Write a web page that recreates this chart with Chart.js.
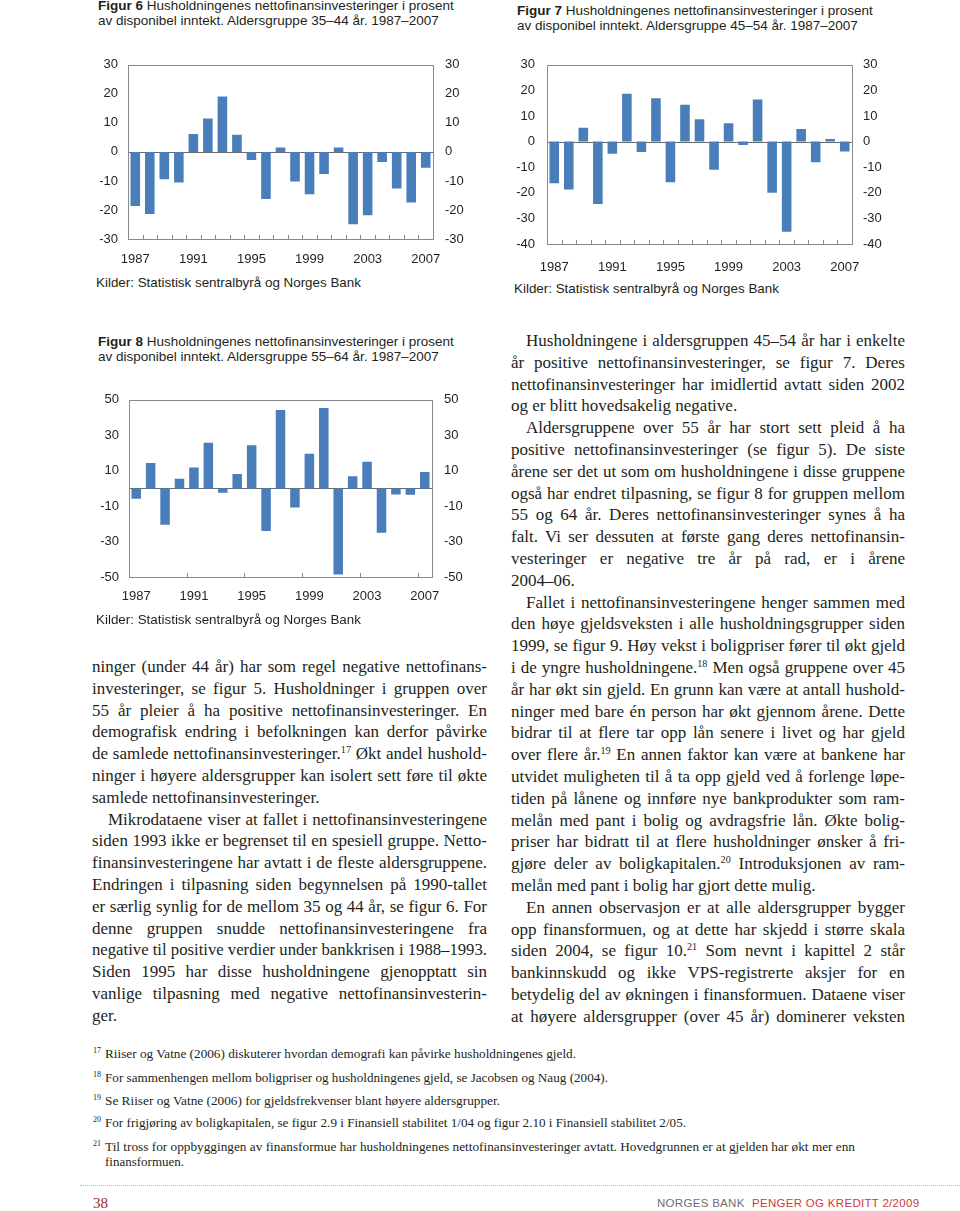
<!DOCTYPE html>
<html><head><meta charset="utf-8">
<script src="https://cdn.jsdelivr.net/npm/chart.js@4"></script>
<style>
html,body{margin:0;padding:0;background:#fff;}
body{width:960px;height:1211px;position:relative;overflow:hidden;}
.abs{position:absolute;}
.ftitle{position:absolute;font-family:"Liberation Sans",Arial,sans-serif;font-size:13.5px;line-height:14.5px;color:#231f20;white-space:nowrap;}
.ftitle b{font-weight:bold;}
.kilder{position:absolute;font-family:"Liberation Sans",Arial,sans-serif;font-size:13.4px;line-height:16px;color:#231f20;white-space:nowrap;}
.col{position:absolute;font-family:"Liberation Serif","Times New Roman",serif;font-size:17px;color:#231f20;}
.ln{height:21.8px;line-height:21.8px;white-space:nowrap;}
.ln span{display:inline-block;transform-origin:0 50%;}
sup{font-size:0.6em;line-height:0;vertical-align:0.55em;}
.fn{position:absolute;font-family:"Liberation Serif","Times New Roman",serif;font-size:12.5px;line-height:15px;color:#231f20;white-space:nowrap;}
.fn span{display:inline-block;transform-origin:0 50%;}
.fnum{position:absolute;font-family:"Liberation Serif","Times New Roman",serif;font-size:8px;color:#231f20;}
canvas{position:absolute;}
</style>
</head><body>

<div class="ftitle" style="left:98px;top:-1px;"><b>Figur 6</b> Husholdningenes nettofinansinvesteringer i prosent<br>av disponibel inntekt. Aldersgruppe 35–44 år. 1987–2007</div>
<div class="ftitle" style="left:517px;top:4px;"><b>Figur 7</b> Husholdningenes nettofinansinvesteringer i prosent<br>av disponibel inntekt. Aldersgruppe 45–54 år. 1987–2007</div>
<div class="ftitle" style="left:98px;top:335px;"><b>Figur 8</b> Husholdningenes nettofinansinvesteringer i prosent<br>av disponibel inntekt. Aldersgruppe 55–64 år. 1987–2007</div>

<canvas id="c6" width="420" height="230" style="left:70px;top:45px;"></canvas>
<canvas id="c7" width="420" height="235" style="left:490px;top:45px;"></canvas>
<canvas id="c8" width="420" height="235" style="left:70px;top:380px;"></canvas>

<div class="kilder" style="left:96px;top:275px;">Kilder: Statistisk sentralbyrå og Norges Bank</div>
<div class="kilder" style="left:514px;top:281px;">Kilder: Statistisk sentralbyrå og Norges Bank</div>
<div class="kilder" style="left:96px;top:612px;">Kilder: Statistisk sentralbyrå og Norges Bank</div>

<div class="col" id="leftcol" style="left:92px;top:656px;width:395px;"></div>
<div class="col" id="rightcol" style="left:511px;top:330px;width:394px;"></div>

<div id="fns"></div>

<div class="abs" style="left:80px;top:1185px;width:880px;border-top:1px dotted #b8b8b8;"></div>
<div class="abs" style="left:93px;top:1194px;font-family:'Liberation Serif',serif;font-size:15px;line-height:18px;color:#a3282e;">38</div>
<div class="abs" style="left:657px;top:1196px;font-family:'Liberation Sans',Arial,sans-serif;font-size:11.5px;line-height:14px;color:#6d6e70;letter-spacing:0.3px;">NORGES BANK</div>
<div class="abs" style="left:752px;top:1196px;font-family:'Liberation Sans',Arial,sans-serif;font-size:11.5px;line-height:14px;color:#d2373d;letter-spacing:0.3px;">PENGER OG KREDITT 2/2009</div>

<script>
// ---- data ----
const years = ['1987','1988','1989','1990','1991','1992','1993','1994','1995','1996','1997','1998','1999','2000','2001','2002','2003','2004','2005','2006','2007'];
const tickYears = ['1987','1991','1995','1999','2003','2007'];
const fig6Values = [-18.6,-21.4,-9.4,-10.5,6.2,11.5,19.1,5.9,-2.8,-16.2,1.5,-10.2,-14.6,-7.6,1.5,-24.9,-21.8,-3.5,-12.6,-17.4,-5.5];
const fig7Values = [-16.3,-18.7,5.4,-24.4,-4.7,18.7,-4.1,16.9,-15.9,14.4,8.7,-11.0,7.2,-1.3,16.4,-20.0,-35.2,4.9,-8.1,1.0,-3.9];
const fig8Values = [-5.9,14.3,-20.5,5.4,11.8,25.8,-2.5,8.1,24.4,-24.1,44.2,-10.8,19.5,45.4,-48.6,6.9,15.1,-25.0,-3.4,-3.6,9.2];
const fig6Ticks = [30,20,10,0,-10,-20,-30];
const fig7Ticks = [30,20,10,0,-10,-20,-30,-40];
const fig8Ticks = [50,30,10,-10,-30,-50];

const barColor = '#4a7ebb';
const txtColor = '#231f20';
const tickFont = {family:'"Liberation Sans", Arial, sans-serif', size:13};

const framePlugin = {
  id:'frame',
  beforeDatasetsDraw(chart){
    const {ctx, chartArea:a, scales} = chart;
    ctx.save();
    ctx.strokeStyle = '#6a6a6a'; ctx.lineWidth = 1;
    const y0 = Math.round(scales.y.getPixelForValue(0)) + 0.5;
    ctx.beginPath(); ctx.moveTo(a.left, y0); ctx.lineTo(a.right, y0); ctx.stroke();
    ctx.restore();
  },
  afterDatasetsDraw(chart, args, opts){
    const {ctx, chartArea:a, scales} = chart;
    ctx.save();
    ctx.strokeStyle = '#8a8a8a'; ctx.lineWidth = 1;
    ctx.strokeRect(Math.round(a.left)+0.5, Math.round(a.top)+0.5, Math.round(a.right-a.left), Math.round(a.bottom-a.top));
    const xs = scales.x; const n = chart.data.labels.length; const every = opts.tickEvery || 1;
    ctx.beginPath();
    for (let i=1;i<n;i++){
      if (i % every) continue;
      const px = Math.round((xs.getPixelForValue(i-1)+xs.getPixelForValue(i))/2)+0.5;
      ctx.moveTo(px, Math.round(a.bottom)); ctx.lineTo(px, Math.round(a.bottom)-4);
    }
    ctx.stroke();
    ctx.restore();
  }
};

function makeChart(id, values, yTicks, min, max, g, tickEvery){
  const yScale = (pos, w, pad) => ({
    position: pos, min: min, max: max,
    afterBuildTicks: s => { s.ticks = yTicks.map(v => ({value:v})); },
    grid:{display:false, drawTicks:false}, border:{display:false},
    ticks:{padding:pad, color:txtColor, font:tickFont},
    afterFit: s => { s.width = w; }
  });
  new Chart(document.getElementById(id), {
    type:'bar',
    data:{labels:years, datasets:[{data:values, backgroundColor:barColor, borderWidth:0, barPercentage:0.66, categoryPercentage:1, yAxisID:'y'}]},
    options:{
      responsive:false, animation:false, devicePixelRatio:1,
      layout:{padding:{top:g.padTop, left:0, right:0, bottom:0}},
      plugins:{legend:{display:false}, tooltip:{enabled:false}, frame:{tickEvery:tickEvery}},
      scales:{
        x:{
          grid:{display:false, drawTicks:false}, border:{display:false},
          ticks:{autoSkip:false, maxRotation:0, minRotation:0, padding:g.xPad, color:txtColor, font:tickFont,
            callback:(v,i) => tickYears.includes(years[i]) ? years[i] : ''},
          afterFit: s => { s.height = g.bottom; }
        },
        y: yScale('left', g.left, g.lPad),
        y2: yScale('right', g.right, g.rPad)
      }
    },
    plugins:[framePlugin]
  });
}

makeChart('c6', fig6Values, fig6Ticks, -30, 30, {padTop:12, left:58, right:57, bottom:36, xPad:13, lPad:10, rPad:12}, 1);
makeChart('c7', fig7Values, fig7Ticks, -40, 30, {padTop:18, left:57, right:58, bottom:36, xPad:16, lPad:12, rPad:11}, 1);
makeChart('c8', fig8Values, fig8Ticks, -50, 50, {padTop:14, left:59, right:58, bottom:38, xPad:12, lPad:10, rPad:12}, 4);

// ---- body text ----
const leftLines = [
 ['ninger (under 44 år) har som regel negative nettofinans-',0,0],
 ['investeringer, se figur 5. Husholdninger i gruppen over',0,0],
 ['55 år pleier å ha positive nettofinansinvesteringer. En',0,0],
 ['demografisk endring i befolkningen kan derfor påvirke',0,0],
 ['de samlede nettofinansinvesteringer.<sup>17</sup> Økt andel hushold-',0,0],
 ['ninger i høyere aldersgrupper kan isolert sett føre til økte',0,0],
 ['samlede nettofinansinvesteringer.',0,1],
 ['Mikrodataene viser at fallet i nettofinansinvesteringene',1,0],
 ['siden 1993 ikke er begrenset til en spesiell gruppe. Netto-',0,0],
 ['finansinvesteringene har avtatt i de fleste aldersgruppene.',0,0],
 ['Endringen i tilpasning siden begynnelsen på 1990-tallet',0,0],
 ['er særlig synlig for de mellom 35 og 44 år, se figur 6. For',0,0],
 ['denne gruppen snudde nettofinansinvesteringene fra',0,0],
 ['negative til positive verdier under bankkrisen i 1988–1993.',0,0],
 ['Siden 1995 har disse husholdningene gjenopptatt sin',0,0],
 ['vanlige tilpasning med negative nettofinansinvesterin-',0,0],
 ['ger.',0,1]
];
const rightLines = [
 ['Husholdningene i aldersgruppen 45–54 år har i enkelte',1,0],
 ['år positive nettofinansinvesteringer, se figur 7. Deres',0,0],
 ['nettofinansinvesteringer har imidlertid avtatt siden 2002',0,0],
 ['og er blitt hovedsakelig negative.',0,1],
 ['Aldersgruppene over 55 år har stort sett pleid å ha',1,0],
 ['positive nettofinansinvesteringer (se figur 5). De siste',0,0],
 ['årene ser det ut som om husholdningene i disse gruppene',0,0],
 ['også har endret tilpasning, se figur 8 for gruppen mellom',0,0],
 ['55 og 64 år. Deres nettofinansinvesteringer synes å ha',0,0],
 ['falt. Vi ser dessuten at første gang deres nettofinansin-',0,0],
 ['vesteringer er negative tre år på rad, er i årene',0,0],
 ['2004–06.',0,1],
 ['Fallet i nettofinansinvesteringene henger sammen med',1,0],
 ['den høye gjeldsveksten i alle husholdningsgrupper siden',0,0],
 ['1999, se figur 9. Høy vekst i boligpriser fører til økt gjeld',0,0],
 ['i de yngre husholdningene.<sup>18</sup> Men også gruppene over 45',0,0],
 ['år har økt sin gjeld. En grunn kan være at antall hushold-',0,0],
 ['ninger med bare én person har økt gjennom årene. Dette',0,0],
 ['bidrar til at flere tar opp lån senere i livet og har gjeld',0,0],
 ['over flere år.<sup>19</sup> En annen faktor kan være at bankene har',0,0],
 ['utvidet muligheten til å ta opp gjeld ved å forlenge løpe-',0,0],
 ['tiden på lånene og innføre nye bankprodukter som ram-',0,0],
 ['melån med pant i bolig og avdragsfrie lån. Økte bolig-',0,0],
 ['priser har bidratt til at flere husholdninger ønsker å fri-',0,0],
 ['gjøre deler av boligkapitalen.<sup>20</sup> Introduksjonen av ram-',0,0],
 ['melån med pant i bolig har gjort dette mulig.',0,1],
 ['En annen observasjon er at alle aldersgrupper bygger',1,0],
 ['opp finansformuen, og at dette har skjedd i større skala',0,0],
 ['siden 2004, se figur 10.<sup>21</sup> Som nevnt i kapittel 2 står',0,0],
 ['bankinnskudd og ikke VPS-registrerte aksjer for en',0,0],
 ['betydelig del av økningen i finansformuen. Dataene viser',0,0],
 ['at høyere aldersgrupper (over 45 år) dominerer veksten',0,0]
];

function fillCol(id, lines, width, indent){
  const col = document.getElementById(id);
  lines.forEach(([t, ind, last]) => {
    const d = document.createElement('div'); d.className = 'ln';
    if (ind) d.style.paddingLeft = indent + 'px';
    const s = document.createElement('span'); s.innerHTML = t; d.appendChild(s); col.appendChild(d);
    if (last) return;
    const target = width - (ind ? indent : 0);
    const w = s.getBoundingClientRect().width;
    const spaces = (s.textContent.match(/ /g) || []).length;
    if (w <= target && spaces > 0) s.style.wordSpacing = ((target - w) / spaces) + 'px';
    else if (w > target) s.style.transform = 'scaleX(' + (target / w) + ')';
  });
}
fillCol('leftcol', leftLines, 395, 16);
fillCol('rightcol', rightLines, 394, 15);

// ---- footnotes ----
const footnotes = [
 ['17','Riiser og Vatne (2006) diskuterer hvordan demografi kan påvirke husholdningenes gjeld.',1054,576],
 ['18','For sammenhengen mellom boligpriser og husholdningenes gjeld, se Jacobsen og Naug (2004).',1078,608],
 ['19','Se Riiser og Vatne (2006) for gjeldsfrekvenser blant høyere aldersgrupper.',1101,500],
 ['20','For frigjøring av boligkapitalen, se figur 2.9 i Finansiell stabilitet 1/04 og figur 2.10 i Finansiell stabilitet 2/05.',1123,686],
 ['21','Til tross for oppbyggingen av finansformue har husholdningenes nettofinansinvesteringer avtatt. Hovedgrunnen er at gjelden har økt mer enn',1147,855],
 ['','finansformuen.',1162,184]
];
const fns = document.getElementById('fns');
footnotes.forEach(([n, t, y, end]) => {
  if (n){
    const nd = document.createElement('div'); nd.className = 'fnum';
    nd.style.left = '93px'; nd.style.top = (y - 8) + 'px'; nd.textContent = n; fns.appendChild(nd);
  }
  const d = document.createElement('div'); d.className = 'fn';
  d.style.left = '105px'; d.style.top = (y - 7.5) + 'px';
  const s = document.createElement('span'); s.textContent = t; d.appendChild(s); fns.appendChild(d);
  const w = s.getBoundingClientRect().width;
  s.style.transform = 'scaleX(' + ((end - 105) / w) + ')';
});
</script>
</body></html>
